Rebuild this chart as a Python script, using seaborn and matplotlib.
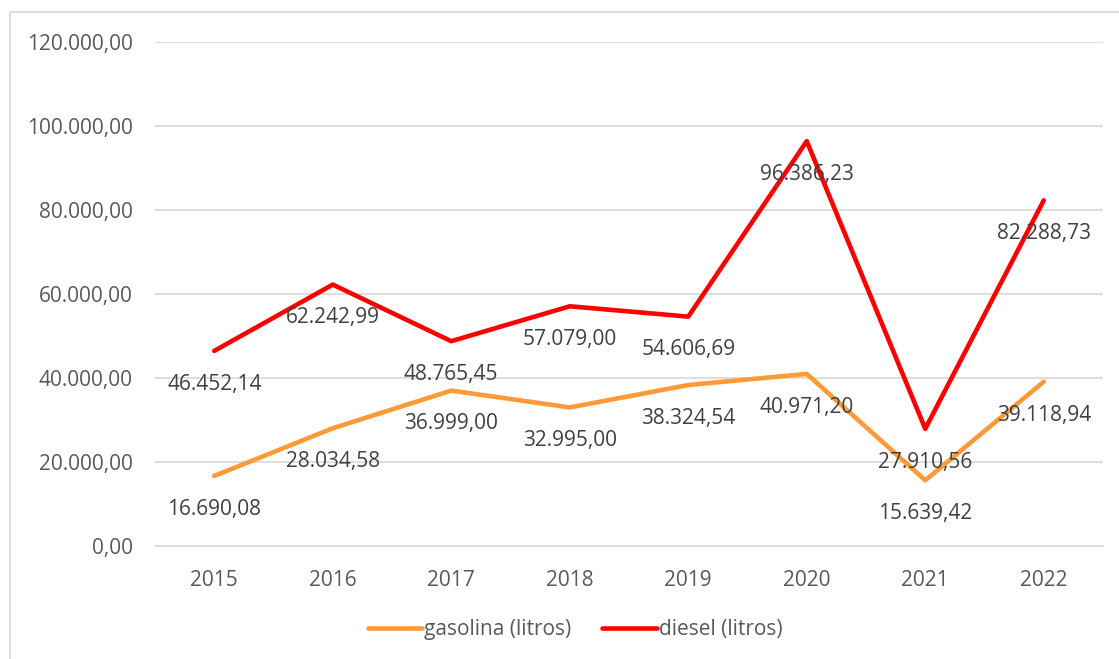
import matplotlib
matplotlib.use("Agg")
import numpy as np
import pandas as pd
import matplotlib.pyplot as plt
import seaborn as sns
from matplotlib.lines import Line2D

anos = ["2015", "2016", "2017", "2018", "2019", "2020", "2021", "2022"]
gasolina = [16690.08, 28034.58, 36999.00, 32995.00, 38324.54, 40971.20, 15639.42, 39118.94]
diesel = [46452.14, 62242.99, 48765.45, 57079.00, 54606.69, 96386.23, 27910.56, 82288.73]

def br(v):
    # formato brasileiro 12.345,67
    s = f"{v:,.2f}"
    return s.replace(",", "X").replace(".", ",").replace("X", ".")

df = pd.DataFrame({"ano": anos * 2,
                   "valor": gasolina + diesel,
                   "serie": ["gasolina (litros)"] * len(anos) + ["diesel (litros)"] * len(anos)})

sns.set_style("white")
plt.rcParams['font.family'] = ['Open Sans', 'DejaVu Sans']
txt = "#595959"
cores = {"gasolina (litros)": "#FF9A36", "diesel (litros)": "#FF0000"}
fs = 15

fig = plt.figure(figsize=(11.19, 6.59), dpi=100)
ax = fig.add_axes([155/1119, 1-546/659, (1103-155)/1119, (546-42)/659])

sns.lineplot(data=df, x="ano", y="valor", hue="serie", palette=cores, linewidth=3.3,
             ax=ax, legend=False, sort=False)

for serie, vals in [("gasolina (litros)", gasolina), ("diesel (litros)", diesel)]:
    for i, v in enumerate(vals):
        ax.annotate(br(v), (i, v), xytext=(0, -24), textcoords="offset points",
                    ha="center", va="center", fontsize=fs, color="#404040")

ax.set_xlim(-0.5, 7.5)
ax.set_ylim(0, 120000)
ax.set_yticks(np.arange(0, 120001, 20000))
ax.set_yticklabels([br(t) for t in np.arange(0, 120001, 20000)])
ax.yaxis.grid(True, color="#D9D9D9", linewidth=1.2)
ax.set_axisbelow(True)
for s in ["top", "right", "left"]:
    ax.spines[s].set_visible(False)
ax.spines["bottom"].set_color("#D9D9D9")
ax.spines["bottom"].set_linewidth(1.2)
ax.tick_params(axis="both", length=0, labelsize=fs, colors=txt)
ax.tick_params(axis="y", pad=16)
ax.tick_params(axis="x", pad=17)
ax.set_xlabel("")
ax.set_ylabel("")

handles = [Line2D([], [], color=cores[k], linewidth=3.3) for k in cores]
fig.legend(handles, list(cores.keys()), loc="center", bbox_to_anchor=(575/1119, 1-630/659),
           ncol=2, frameon=False, fontsize=fs, labelcolor=txt, handlelength=2.6,
           handletextpad=0.1, columnspacing=1.5)

# moldura do gráfico
fig.add_artist(Line2D([10/1119, 10/1119], [0, 1-12/659], color="#D9D9D9", linewidth=1.2))
fig.add_artist(Line2D([10/1119, 1], [1-12/659, 1-12/659], color="#D9D9D9", linewidth=1.2))

fig.savefig("out.png", dpi=100)
